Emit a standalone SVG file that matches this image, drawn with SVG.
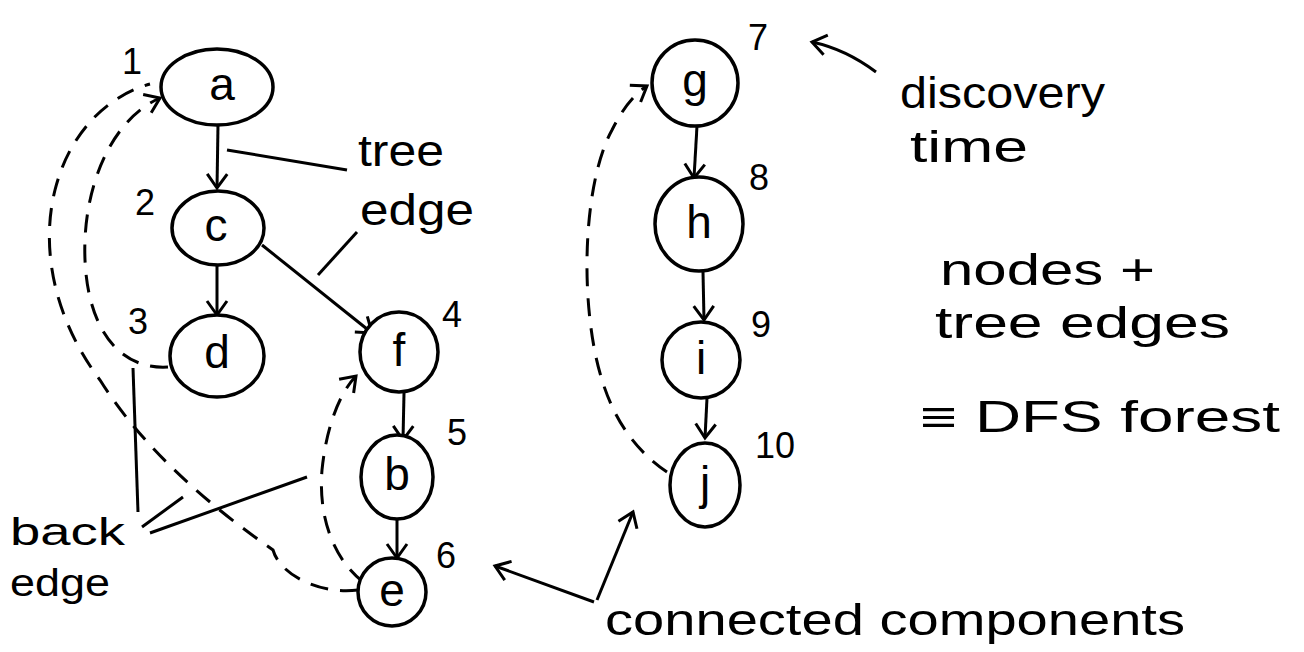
<svg xmlns="http://www.w3.org/2000/svg" width="1304" height="652" viewBox="0 0 1304 652">
<defs>
<style>
.node{fill:#fff;stroke:#000;stroke-width:3.5}
.lbl{font-family:"Liberation Sans",Arial,sans-serif;font-size:46px;fill:#000;text-anchor:middle;dominant-baseline:central}
.num{font-family:"Liberation Sans",Arial,sans-serif;font-size:36px;fill:#000}
.txt{font-family:"Liberation Sans",Arial,sans-serif;font-size:44px;fill:#000}
.sm{font-size:38px}
.tree{fill:none;stroke:#000;stroke-width:3;marker-end:url(#arr)}
.back{fill:none;stroke:#000;stroke-width:3;stroke-dasharray:18 12}
.note{fill:none;stroke:#000;stroke-width:3}
</style>
<marker id="arr" markerUnits="userSpaceOnUse" viewBox="-16 -12 20 24" refX="0" refY="0" markerWidth="20" markerHeight="24" orient="auto">
<path d="M-14,-10 L0,0 L-14,10" fill="none" stroke="#000" stroke-width="3"/>
</marker>
</defs>
<rect width="1304" height="652" fill="#fff"/>
<g id="connectors">
<path class="tree" d="M218,125 L217,188"/>
<path class="tree" d="M217,265 L217,315"/>
<path class="tree" d="M262,245 L372,333"/>
<path class="tree" d="M404,393 L403,440"/>
<path class="tree" d="M397,520 L397,558"/>
<path class="tree" d="M697,126 L694,178"/>
<path class="tree" d="M703,272 L704,320"/>
<path class="tree" d="M707,398 L705,438"/>
<path class="back" d="M168,367 C120,370 88,330 85,260 C82,190 110,120 160,98" marker-end="url(#arr)"/>
<path class="back" d="M358,590 C320,595 280,575 273,550 C230,520 150,460 100,380 C55,320 40,250 55,190 C70,130 110,95 150,84"/>
<path class="back" d="M363,582 C335,560 318,520 322,470 C326,430 338,395 356,376" marker-end="url(#arr)"/>
<path class="back" d="M667,472 C620,440 598,390 590,320 C582,250 590,170 612,130 C622,110 633,95 647,86" marker-end="url(#arr)"/>
<path class="note" d="M227,150 L347,170"/>
<path class="note" d="M318,275 L357,232"/>
<path class="note" d="M133,368 L138,512"/>
<path class="note" d="M142,527 L183,497"/>
<path class="note" d="M150,533 L307,477"/>
<path class="note" d="M876,72 C860,60 840,48 812,42" marker-end="url(#arr)"/>
<path class="note" d="M594,602 L495,566" marker-end="url(#arr)"/>
<path class="note" d="M597,600 L633,512" marker-end="url(#arr)"/>
</g>
<g id="node-a"><ellipse class="node" cx="217" cy="87" rx="56" ry="38"/><text class="lbl" x="222" y="84">a</text></g>
<g id="node-c"><ellipse class="node" cx="218" cy="228" rx="46" ry="37"/><text class="lbl" x="216" y="225">c</text></g>
<g id="node-d"><ellipse class="node" cx="217" cy="356" rx="47" ry="41"/><text class="lbl" x="217" y="352">d</text></g>
<g id="node-f"><ellipse class="node" cx="399" cy="352" rx="39" ry="40"/><text class="lbl" x="399" y="350">f</text></g>
<g id="node-b"><ellipse class="node" cx="397" cy="477" rx="36" ry="42"/><text class="lbl" x="397" y="474">b</text></g>
<g id="node-e"><ellipse class="node" cx="392" cy="592" rx="34" ry="34"/><text class="lbl" x="392" y="590">e</text></g>
<g id="node-g"><ellipse class="node" cx="695" cy="83" rx="43" ry="43"/><text class="lbl" x="695" y="80">g</text></g>
<g id="node-h"><ellipse class="node" cx="699" cy="224" rx="44" ry="47"/><text class="lbl" x="699" y="222">h</text></g>
<g id="node-i"><ellipse class="node" cx="701" cy="360" rx="39" ry="38"/><text class="lbl" x="701" y="358">i</text></g>
<g id="node-j"><ellipse class="node" cx="705" cy="485" rx="35" ry="42"/><text class="lbl" x="705" y="483">j</text></g>
<g id="labels">
<text class="num" x="122" y="74">1</text>
<text class="num" x="135" y="215">2</text>
<text class="num" x="128" y="334">3</text>
<text class="num" x="442" y="327">4</text>
<text class="num" x="447" y="445">5</text>
<text class="num" x="436" y="568">6</text>
<text class="num" x="748" y="50">7</text>
<text class="num" x="749" y="190">8</text>
<text class="num" x="751" y="337">9</text>
<text class="num" x="755" y="458">10</text>
<text class="txt" x="358" y="166" textLength="86" lengthAdjust="spacingAndGlyphs">tree</text>
<text class="txt" x="360" y="225" textLength="114" lengthAdjust="spacingAndGlyphs">edge</text>
<text class="txt" x="900" y="108" textLength="205" lengthAdjust="spacingAndGlyphs">discovery</text>
<text class="txt" x="910" y="162" textLength="118" lengthAdjust="spacingAndGlyphs">time</text>
<text class="txt" x="940" y="285" textLength="215" lengthAdjust="spacingAndGlyphs">nodes +</text>
<text class="txt" x="935" y="338" textLength="295" lengthAdjust="spacingAndGlyphs">tree edges</text>
<text class="txt" x="920" y="432" textLength="360" lengthAdjust="spacingAndGlyphs">≡ DFS forest</text>
<text class="txt sm" x="10" y="545" textLength="115" lengthAdjust="spacingAndGlyphs">back</text>
<text class="txt sm" x="10" y="596" textLength="100" lengthAdjust="spacingAndGlyphs">edge</text>
<text class="txt" x="605" y="635" textLength="580" lengthAdjust="spacingAndGlyphs">connected components</text>
</g>
</svg>
